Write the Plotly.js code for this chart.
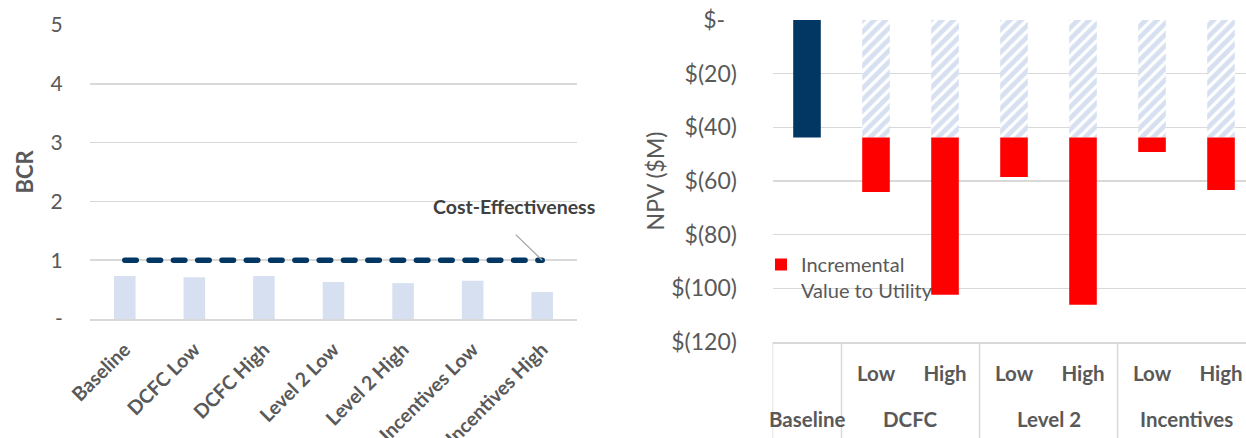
<!DOCTYPE html>
<html><head><meta charset="utf-8">
<script src="https://cdn.plot.ly/plotly-3.0.1.min.js"></script>
<style>
html,body{margin:0;padding:0;background:#fff}
#chart{width:1246px;height:438px}
.scatterlayer .js-line{stroke-linecap:round}
</style>
</head><body><div id="chart"></div>
<script>
// ---- Left chart: Benefit-Cost Ratio ----
const bcrCategories = ['Baseline','DCFC Low','DCFC High','Level 2 Low','Level 2 High','Incentives Low','Incentives High'];
const bcrValues = [0.73, 0.71, 0.73, 0.63, 0.61, 0.65, 0.46];
const costEffectivenessThreshold = 1;
const bcrTickVals = [0, 1, 2, 3, 4, 5];
const bcrTickText = ['-', '1', '2', '3', '4', '5'];

// ---- Right chart: NPV ($M) ----
const npvCategories = ['Baseline','DCFC Low','DCFC High','Level 2 Low','Level 2 High','Incentives Low','Incentives High'];
const npvGroups = ['Baseline','DCFC','DCFC','Level 2','Level 2','Incentives','Incentives'];
const npvLevels = [' ','Low','High','Low','High','Low','High'];
const baselineNPV = -43.8;
const incrementalValue = [-20.3, -58.6, -14.7, -62.3, -5.4, -19.6]; // DCFC L/H, Level 2 L/H, Incentives L/H
const npvTickVals = [0, -20, -40, -60, -80, -100, -120];
const npvTickText = ['$-\u00a0\u00a0', '$(20)', '$(40)', '$(60)', '$(80)', '$(100)', '$(120)'];

const W = 1246, H = 438;
const GRAY = '#595959', GRID = '#D9D9D9';
const NAVY = '#023764', LIGHT = '#D6E0F0', RED = '#FF0000';

const scenCats = npvCategories.slice(1);

const traces = [
  { type:'bar', x:bcrCategories, y:bcrValues, width:0.31, marker:{color:LIGHT, line:{width:0}},
    xaxis:'x', yaxis:'y', showlegend:false, hoverinfo:'skip' },
  { type:'scatter', mode:'lines', x:bcrCategories, y:bcrCategories.map(() => costEffectivenessThreshold),
    line:{color:NAVY, width:5.5, dash:'11.5px,12.8px'}, xaxis:'x', yaxis:'y', showlegend:false, hoverinfo:'skip' },
  { type:'bar', x:[npvCategories[0]], y:[baselineNPV], width:0.4,
    marker:{color:NAVY, line:{width:0}}, xaxis:'x2', yaxis:'y2', showlegend:false, hoverinfo:'skip' },
  { type:'bar', x:scenCats, y:scenCats.map(() => baselineNPV), width:0.4,
    marker:{color:'#ffffff', line:{width:0}, pattern:{shape:'/', fgcolor:LIGHT, bgcolor:'#ffffff', size:8, solidity:0.6}},
    xaxis:'x2', yaxis:'y2', showlegend:false, hoverinfo:'skip' },
  { type:'bar', x:scenCats, y:incrementalValue, width:0.4, name:'Incremental<br>Value to Utility',
    marker:{color:RED, line:{width:0}}, xaxis:'x2', yaxis:'y2', showlegend:true, hoverinfo:'skip' }
];

// outer group labels and dividers for the right chart's two-level axis
const groupNames = [...new Set(npvGroups)];
const groupAnnotations = groupNames.map(g => {
  const idx = npvGroups.map((v, i) => v === g ? i : -1).filter(i => i >= 0);
  const center = idx.reduce((a, b) => a + b, 0) / idx.length;
  return { xref:'x2', yref:'paper', x:center, y:(H-419)/H, yanchor:'middle', xanchor:'center',
    text:g, showarrow:false, font:{family:'Lato', size:20.5, weight:700, color:GRAY} };
});
const boundaries = [-0.5];
npvGroups.forEach((g, i) => { if (i > 0 && g !== npvGroups[i-1]) boundaries.push(i - 0.5); });
boundaries.push(npvGroups.length - 0.5);
const dividerShapes = boundaries.map(b => ({ type:'line', xref:'x2', yref:'paper', x0:b, x1:b,
  y0:0, y1:(H-342)/H, line:{color:GRID, width:1.5}, layer:'above' }));

const layout = {
  width:W, height:H, margin:{l:0,r:0,t:0,b:0}, paper_bgcolor:'#fff', plot_bgcolor:'#fff',
  barmode:'relative', font:{family:'Lato', color:GRAY},
  xaxis:{ domain:[90/W, 577/W], type:'category', range:[-0.5, 6.5], tickangle:-45,
    tickfont:{family:'Lato', size:19.5, weight:700, color:GRAY}, showgrid:false, zeroline:false,
    showline:true, linecolor:GRID, linewidth:1.5, ticks:'outside', ticklen:10, tickcolor:'rgba(0,0,0,0)',
    anchor:'y', automargin:false, fixedrange:true },
  yaxis:{ domain:[(H-319)/H, (H-25)/H], range:[0,5], tickvals:bcrTickVals, ticktext:bcrTickText,
    tickfont:{family:'Lato', size:21, color:GRAY}, gridcolor:GRID, gridwidth:1.5, zeroline:false,
    ticks:'outside', ticklen:22, tickcolor:'rgba(0,0,0,0)',
    title:{text:'BCR', font:{family:'Lato', size:22, weight:700, color:GRAY}, standoff:10},
    anchor:'x', automargin:false, fixedrange:true },
  xaxis2:{ domain:[772.5/W, 1], type:'category', range:[-0.5, 6.362],
    tickvals:npvCategories, ticktext:npvLevels,
    tickfont:{family:'Lato', size:20.5, weight:700, color:GRAY}, showgrid:false, zeroline:false,
    showline:true, linecolor:GRID, linewidth:1.5, ticks:'outside', ticklen:13, tickcolor:'rgba(0,0,0,0)',
    anchor:'y2', automargin:false, fixedrange:true },
  yaxis2:{ domain:[(H-342)/H, (H-20)/H], range:[-120, 0], tickvals:npvTickVals, ticktext:npvTickText,
    tickfont:{family:'Lato', size:23, color:GRAY}, gridcolor:GRID, gridwidth:1.5, zeroline:false,
    ticks:'outside', ticklen:30, tickcolor:'rgba(0,0,0,0)',
    title:{text:'NPV ($M)', font:{family:'Lato', size:23, color:GRAY}, standoff:0},
    anchor:'x2', automargin:false, fixedrange:true },
  legend:{ x:761/W, xanchor:'left', y:(H-245)/H, yanchor:'top', valign:'top', bgcolor:'rgba(0,0,0,0)',
    font:{family:'Lato', size:20, color:GRAY}, borderwidth:0 },
  shapes: dividerShapes,
  annotations:[
    { xref:'x', yref:'y', x:bcrCategories[bcrCategories.length-1], y:costEffectivenessThreshold,
      text:'', showarrow:true, arrowhead:0, arrowwidth:1.3, arrowcolor:'#A6A6A6', ax:-28, ay:-27,
      font:{size:1} },
    { xref:'x', yref:'y', x:bcrCategories[bcrCategories.length-1], y:costEffectivenessThreshold,
      text:'Cost-Effectiveness', showarrow:false, xshift:-28, yshift:54,
      font:{family:'Lato', size:19.5, weight:700, color:'#404040'} }
  ].concat(groupAnnotations)
};

Plotly.newPlot('chart', traces, layout, {displayModeBar:false, staticPlot:true});
</script>
</body></html>
